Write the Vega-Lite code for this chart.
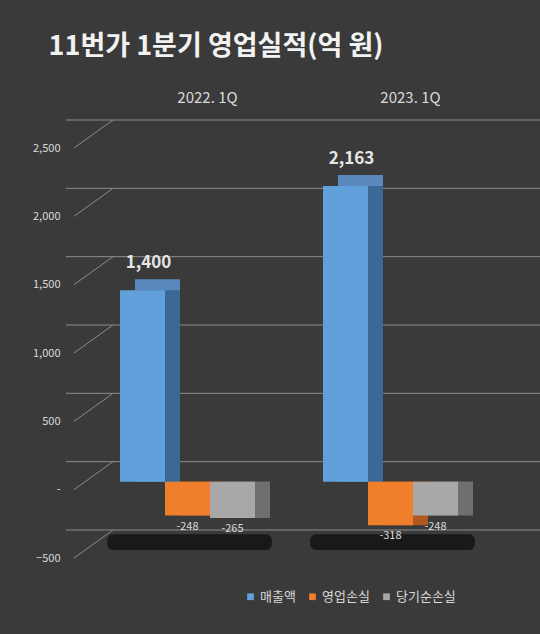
{
  "$schema": "https://vega.github.io/schema/vega-lite/v6.json",
  "autosize": {"type": "none"},
  "padding": {"left": 66, "top": 140, "right": 28, "bottom": 84},
  "width": 446,
  "height": 410,
  "background": "#3a3a3a",
  "config": {"view": {"stroke": null}, "font": "Noto Sans CJK KR"},
  "title": {"text": "11번가 1분기 영업실적(억 원)", "anchor": "start", "fontSize": 27, "fontWeight": "bold", "color": "#f2f2f2", "dx": 16, "dy": -15, "offset": 14},
  "datasets": {
    "bars": [
      {"q": "2022. 1Q", "s": "매출액", "v": 1400, "label": "1,400"},
      {"q": "2022. 1Q", "s": "영업손실", "v": -248, "label": "-248"},
      {"q": "2022. 1Q", "s": "당기순손실", "v": -265, "label": "-265"},
      {"q": "2023. 1Q", "s": "매출액", "v": 2163, "label": "2,163"},
      {"q": "2023. 1Q", "s": "영업손실", "v": -318, "label": "-318"},
      {"q": "2023. 1Q", "s": "당기순손실", "v": -248, "label": "-248"}
    ],
    "grid": [{"g": -500}, {"g": 0}, {"g": 500}, {"g": 1000}, {"g": 1500}, {"g": 2000}, {"g": 2500}],
    "floor": [{"q": "2022. 1Q"}, {"q": "2023. 1Q"}]
  },
  "layer": [
    {
      "data": {"name": "grid"},
      "mark": {"type": "rule", "color": "#8c8c8c", "strokeWidth": 1, "yOffset": -20, "xOffset": 48, "x2Offset": 8},
      "encoding": {
        "y": {"field": "g", "type": "quantitative", "scale": {"domain": [-500, 2500], "nice": false},
          "axis": {"values": [-500, 0, 500, 1000, 1500, 2000, 2500], "labelExpr": "datum.value == 0 ? '-' : format(datum.value, ',')", "grid": false, "domain": false, "ticks": false, "labelPadding": 6, "labelOffset": 8, "labelFontSize": 11, "labelColor": "#d9d9d9", "title": null}}
      }
    },
    {
      "data": {"name": "grid"},
      "mark": {"type": "rule", "color": "#8c8c8c", "strokeWidth": 1, "xOffset": -46, "x2Offset": -7, "yOffset": 8, "y2Offset": -20},
      "encoding": {
        "x": {"datum": "2022. 1Q", "bandPosition": 0, "scale": {"domain": ["2022. 1Q", "2023. 1Q"], "paddingInner": 0.335, "paddingOuter": 0.266},
          "axis": {"orient": "top", "domain": false, "ticks": false, "grid": false, "labelAngle": 0, "labelPadding": 35, "labelOffset": 20, "labelFontSize": 15, "labelColor": "#d9d9d9", "title": null}},
        "x2": {"datum": "2022. 1Q", "bandPosition": 0},
        "y": {"field": "g", "type": "quantitative"},
        "y2": {"field": "g"}
      }
    },
    {
      "data": {"name": "floor"},
      "mark": {"type": "bar", "color": "#141414", "opacity": 0.85, "cornerRadius": 6, "width": {"band": 1.22}, "xOffset": 2},
      "encoding": {
        "x": {"field": "q", "type": "nominal"},
        "y": {"datum": -385},
        "y2": {"datum": -500}
      }
    },
    {
      "data": {"name": "bars"},
      "mark": {"type": "bar", "yOffset": -11},
      "encoding": {
        "x": {"field": "q", "type": "nominal"},
        "xOffset": {"field": "s", "type": "nominal", "sort": ["매출액", "영업손실", "당기순손실"], "scale": {"domain": ["매출액", "영업손실", "당기순손실"], "range": [15, 150], "paddingInner": 0, "paddingOuter": 0}},
        "y": {"field": "v", "type": "quantitative", "stack": null},
        "color": {"field": "s", "type": "nominal", "scale": {"domain": ["매출액", "영업손실", "당기순손실"], "range": ["#5a88bd", "#c0642a", "#8a8a8a"]}, "legend": null}
      }
    },
    {
      "data": {"name": "bars"},
      "mark": {"type": "bar"},
      "encoding": {
        "x": {"field": "q", "type": "nominal"},
        "xOffset": {"field": "s", "type": "nominal", "sort": ["매출액", "영업손실", "당기순손실"], "scale": {"domain": ["매출액", "영업손실", "당기순손실"], "range": [15, 150], "paddingInner": 0, "paddingOuter": 0}},
        "y": {"field": "v", "type": "quantitative", "stack": null},
        "color": {"field": "s", "type": "nominal", "scale": {"domain": ["매출액", "영업손실", "당기순손실"], "range": ["#3c6895", "#b0581f", "#6f6f6f"]}, "legend": null}
      }
    },
    {
      "data": {"name": "bars"},
      "mark": {"type": "bar"},
      "encoding": {
        "x": {"field": "q", "type": "nominal"},
        "xOffset": {"field": "s", "type": "nominal", "sort": ["매출액", "영업손실", "당기순손실"], "scale": {"domain": ["매출액", "영업손실", "당기순손실"], "paddingInner": 0, "paddingOuter": 0}},
        "y": {"field": "v", "type": "quantitative", "stack": null},
        "color": {"field": "s", "type": "nominal", "sort": ["매출액", "영업손실", "당기순손실"],
          "scale": {"domain": ["매출액", "영업손실", "당기순손실"], "range": ["#62a0dc", "#f07f2c", "#a8a8a8"]},
          "legend": {"title": null, "orient": "none", "legendX": 178, "legendY": 450, "direction": "horizontal", "symbolType": "square", "symbolSize": 45, "symbolStrokeWidth": 0, "labelFontSize": 13, "labelColor": "#d9d9d9", "labelOffset": 3, "columnPadding": 10}}
      }
    },
    {
      "data": {"name": "bars"},
      "transform": [{"filter": "datum.v > 0"}],
      "mark": {"type": "text", "fontSize": 17, "fontWeight": "bold", "color": "#e6e6e6", "baseline": "bottom", "dx": 6, "dy": -18},
      "encoding": {
        "x": {"field": "q", "type": "nominal"},
        "xOffset": {"field": "s", "type": "nominal", "sort": ["매출액", "영업손실", "당기순손실"], "scale": {"type": "point", "domain": ["매출액", "영업손실", "당기순손실"], "padding": 0.5}},
        "y": {"field": "v", "type": "quantitative"},
        "text": {"field": "label"}
      }
    },
    {
      "data": {"name": "bars"},
      "transform": [{"filter": "datum.v < 0"}],
      "mark": {"type": "text", "fontSize": 11, "color": "#d9d9d9", "baseline": "top", "dy": 5},
      "encoding": {
        "x": {"field": "q", "type": "nominal"},
        "xOffset": {"field": "s", "type": "nominal", "sort": ["매출액", "영업손실", "당기순손실"], "scale": {"type": "point", "domain": ["매출액", "영업손실", "당기순손실"], "padding": 0.5}},
        "y": {"field": "v", "type": "quantitative"},
        "text": {"field": "label"}
      }
    }
  ],
  "resolve": {"scale": {"color": "independent", "xOffset": "independent"}}
}
